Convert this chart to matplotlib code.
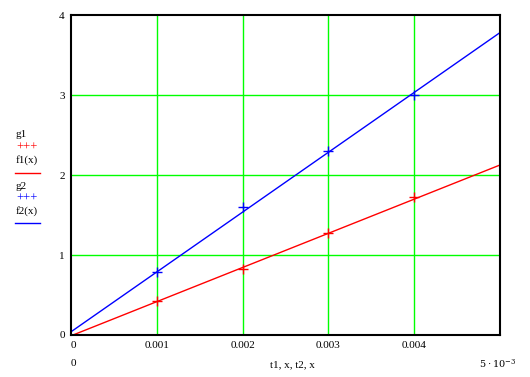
import matplotlib.pyplot as plt
import numpy as np

# measured points
t1 = [0.001, 0.002, 0.003, 0.004]
g1 = [0.42, 0.825, 1.27, 1.72]
t2 = [0.001, 0.002, 0.003, 0.004]
g2 = [0.79, 1.60, 2.30, 3.00]

# fitted lines f1(x), f2(x): slope, intercept
f1_coef = [427.0, -0.01]
f2_coef = [748.0, 0.04]

x = np.linspace(0, 0.005, 200)

plt.rcParams['font.family'] = ['Liberation Serif', 'DejaVu Serif']
plt.rcParams['mathtext.fontset'] = 'dejavuserif'

fig = plt.figure(figsize=(5.3, 3.77), dpi=100)
ax = fig.add_axes([71 / 530, 42 / 377, 429 / 530, 320 / 377])

ax.plot(x, f1_coef[0] * x + f1_coef[1], color='red', lw=1)
ax.plot(x, f2_coef[0] * x + f2_coef[1], color='blue', lw=1)
ax.plot(t1, g1, '+', color='red', ms=7, mew=1)
ax.plot(t2, g2, '+', color='blue', ms=7, mew=1)

ax.set_xlim(0, 0.005)
ax.set_ylim(0, 4)
ax.set_xticks([0.001, 0.002, 0.003, 0.004])
ax.set_yticks([1, 2, 3])
ax.set_xticklabels([])
ax.set_yticklabels([])
ax.tick_params(length=0)
ax.grid(True, color='#00ff00', lw=1)
ax.set_axisbelow(True)
for s in ax.spines.values():
    s.set_linewidth(1.5)
    s.set_color('black')

fs = 8
# y labels
for yv, lab in [(0, '0'), (1, '1'), (2, '2'), (3, '3'), (4, '4')]:
    ax.annotate(lab, xy=(0, yv), xycoords=('axes fraction', 'data'),
                xytext=(-4.5, -1 if yv > 0 else -0.7), textcoords='offset points',
                ha='right', va='center', fontsize=fs)
# x labels
for xv, lab in [(0, '0'), (0.001, '0.001'), (0.002, '0.002'),
                (0.003, '0.003'), (0.004, '0.004')]:
    ax.annotate(lab, xy=(xv, 0), xycoords=('data', 'axes fraction'),
                xytext=(0 if xv > 0 else 0, -7.5), textcoords='offset points',
                ha='center' if xv > 0 else 'left', va='center', fontsize=fs)

fig.text(71 / 530, 1 - 364 / 377, '0', fontsize=fs, ha='left', va='center')
fig.text(292 / 530, 1 - 365 / 377, 't1, x, t2, x', fontsize=fs, ha='center', va='center')
fig.text(516 / 530, 1 - 364 / 377, r'$5\cdot10^{-3}$', fontsize=7, ha='right', va='center')

# left legend
lx = 16 / 530
fig.text(lx, 1 - 135 / 377, 'g1', fontsize=fs, va='center')
fig.text(lx, 1 - 148 / 377, '+++', fontsize=fs + 1, va='center', color='red')
fig.text(lx, 1 - 160 / 377, 'f1(x)', fontsize=fs, va='center')
fig.add_artist(plt.Line2D([15 / 530, 40 / 530], [1 - 173 / 377] * 2, color='red', lw=1))
fig.text(lx, 1 - 186 / 377, 'g2', fontsize=fs, va='center')
fig.text(lx, 1 - 199 / 377, '+++', fontsize=fs + 1, va='center', color='blue')
fig.text(lx, 1 - 211 / 377, 'f2(x)', fontsize=fs, va='center')
fig.add_artist(plt.Line2D([15 / 530, 40 / 530], [1 - 223 / 377] * 2, color='blue', lw=1))

fig.savefig('out.png', dpi=100)
